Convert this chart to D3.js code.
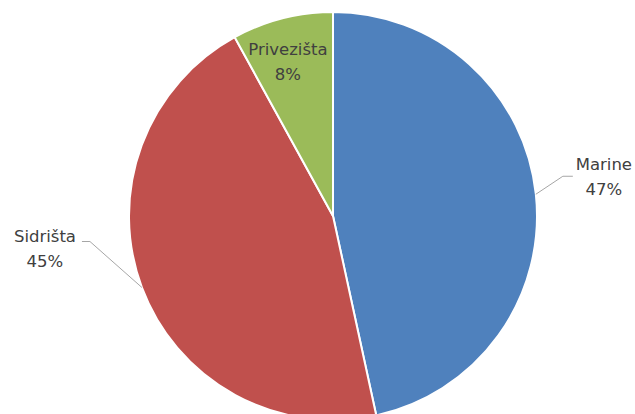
<!DOCTYPE html>
<html>
<head>
<meta charset="utf-8">
<script src="https://cdn.jsdelivr.net/npm/d3@7"></script>
<style>
html,body{margin:0;padding:0;background:#fff;overflow:hidden;}
svg{display:block;}
</style>
</head>
<body>
<svg id="chart" width="635" height="414"></svg>
<script>
const categories = ["Marine", "Sidrišta", "Privezišta"];
const values = [46.6, 45.4, 8.0];
const colors = ["#4F81BD", "#C0504D", "#9BBB59"];

const W = 635, H = 414;
const cx = 333, cy = 216, R = 204;
const svg = d3.select("#chart");
const g = svg.append("g").attr("transform", `translate(${cx},${cy})`);

const data = categories.map((c, i) => ({name: c, value: values[i], color: colors[i]}));
const total = d3.sum(values);
const pie = d3.pie().value(d => d.value).sort(null);
const arcs = pie(data);
const arc = d3.arc().innerRadius(0).outerRadius(R);

g.selectAll("path.slice").data(arcs).enter().append("path")
  .attr("class", "slice")
  .attr("d", arc)
  .attr("fill", d => d.data.color)
  .attr("stroke", "#fff")
  .attr("stroke-width", 2)
  .attr("stroke-linejoin", "round");

// label layout (offsets relative to slice mid-edge point)
const layout = {
  "Marine":     {type: "out", elbow: [27, -18], end: [37, -18], tx: 68, ty: -29},
  "Sidrišta":   {type: "out", elbow: [-52, -46], end: [-60, -46], tx: -97, ty: -50},
  "Privezišta": {type: "in", radius: 0.79, dx: -5, dy: 3}
};
const fontSize = 16.5;
const lineGap = 25;

arcs.forEach(a => {
  const mid = (a.startAngle + a.endAngle) / 2;
  const ex = R * Math.sin(mid), ey = -R * Math.cos(mid);
  const L = layout[a.data.name];
  const pct = Math.round(a.data.value / total * 100) + "%";
  let lx, ly;
  if (L.type === "out") {
    g.append("polyline")
      .attr("points", [[ex, ey], [ex + L.elbow[0], ey + L.elbow[1]], [ex + L.end[0], ey + L.end[1]]].map(p => p.join(",")).join(" "))
      .attr("fill", "none")
      .attr("stroke", "#A6A6A6")
      .attr("stroke-width", 1);
    lx = ex + L.tx; ly = ey + L.ty;
  } else {
    lx = L.radius * R * Math.sin(mid) + L.dx;
    ly = -L.radius * R * Math.cos(mid) - lineGap / 2 + L.dy;
  }
  const t = g.append("text")
    .attr("text-anchor", "middle")
    .attr("font-family", "DejaVu Sans, sans-serif")
    .attr("font-size", fontSize)
    .attr("fill", "#404040");
  t.append("tspan").attr("x", lx).attr("y", ly).attr("dominant-baseline", "middle").text(a.data.name);
  t.append("tspan").attr("x", lx).attr("y", ly + lineGap).attr("dominant-baseline", "middle").text(pct);
});
</script>
</body>
</html>
